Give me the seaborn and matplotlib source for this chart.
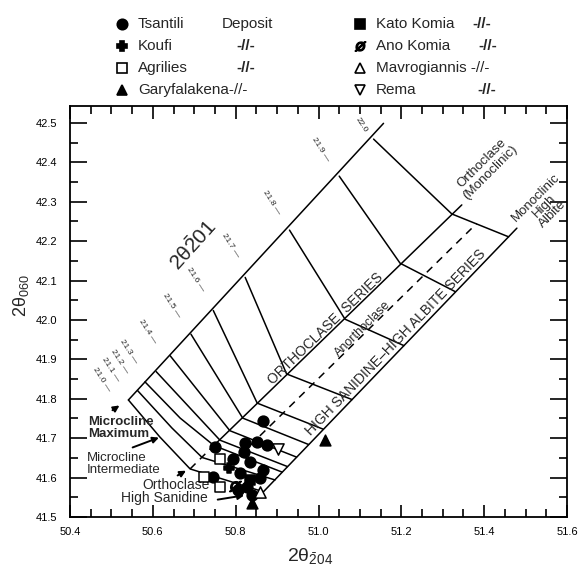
import matplotlib
matplotlib.use("Agg")
import matplotlib.pyplot as plt
import pandas as pd
import seaborn as sns
from matplotlib.ticker import MultipleLocator
from matplotlib.lines import Line2D

# -- Sample data: 2θ(-204) and 2θ(060) --
sample_site = (
    ["Tsantili"] * 15
    + ["Koufi"]
    + ["Agrilies"] * 3
    + ["Garyfalakena"] * 2
    + ["Kato Komia"]
    + ["Ano Komia"]
    + ["Mavrogiannis"]
    + ["Rema"]
)
sample_2t204 = [
    50.867, 50.750, 50.823, 50.851, 50.875, 50.819, 50.794, 50.867,
    50.746, 50.811, 50.827, 50.859, 50.835, 50.840, 50.806,
    50.783,
    50.761, 50.724, 50.762,
    50.839, 51.016,
    50.835,
    50.799,
    50.859,
    50.903,
]
sample_2t060 = [
    41.744, 41.677, 41.687, 41.691, 41.683, 41.666, 41.646, 41.619,
    41.602, 41.611, 41.577, 41.599, 41.640, 41.556, 41.569,
    41.624,
    41.647, 41.602, 41.577,
    41.535, 41.695,
    41.594,
    41.579,
    41.564,
    41.672,
]

# -- Reference grid (Wright-type diagram) --
contour_names = ["21.0", "21.1", "21.2", "21.3", "21.4", "21.5",
                 "21.6", "21.7", "21.8", "21.9", "22.0"]
contour_x = [
    [50.541, 50.617, 50.690, 50.867],
    [50.563, 50.646, 50.719, 50.895],
    [50.581, 50.666, 50.748, 50.912],
    [50.608, 50.762, 50.925],
    [50.642, 50.786, 50.947],
    [50.692, 50.817, 50.976],
    [50.746, 50.852, 51.011],
    [50.823, 50.923, 51.081],
    [50.930, 51.064, 51.206],
    [51.050, 51.197, 51.330],
    [51.133, 51.286, 51.322, 51.459],
]
contour_y = [
    [41.797, 41.703, 41.622, 41.564],
    [41.821, 41.726, 41.651, 41.594],
    [41.843, 41.751, 41.681, 41.614],
    [41.869, 41.695, 41.628],
    [41.909, 41.719, 41.652],
    [41.964, 41.751, 41.684],
    [42.024, 41.789, 41.723],
    [42.108, 41.863, 41.798],
    [42.228, 42.002, 41.935],
    [42.365, 42.144, 42.072],
    [42.459, 42.305, 42.269, 42.211],
]
upper_x = [50.541, 51.157]
upper_y = [41.797, 42.499]
orthoclase_x = [50.738, 51.346]
orthoclase_y = [41.672, 42.292]
orthoclase_dash_x = [50.690, 50.738]
orthoclase_dash_y = [41.622, 41.672]
sanidine_x = [50.867, 51.479]
sanidine_y = [41.564, 42.233]
anorthoclase_x = [50.811, 51.382]
anorthoclase_y = [41.657, 42.245]

# label offsets (pixels) of the 2θ-201 values from their contour ends
contour_label_dx = [-27, -27, -25, -28, -23, -19, -18, -15, -18, -19, -12]
contour_label_dy = [20, 21, 20, 20, 24, 29, 31, 32, 28, 27, 14]

site_style = {
    "Tsantili": ("o", "black", 60),
    "Koufi": ("P", "black", 45),
    "Agrilies": ("s", "white", 55),
    "Garyfalakena": ("^", "black", 60),
    "Kato Komia": ("s", "black", 55),
    "Ano Komia": (r"$\O$", "black", 70),
    "Mavrogiannis": ("^", "white", 65),
    "Rema": ("v", "white", 65),
}
legend_labels = ["Tsantili", "Koufi", "Agrilies", "Garyfalakena-//-",
                 "Kato Komia", "Ano Komia", "Mavrogiannis -//-", "Rema"]
legend_extra = ["Deposit", "-//-", "-//-", "", "-//-", "-//-", "", "-//-"]
legend_extra_px = [222, 236, 236, 0, 472, 478, 0, 477]
legend_row_px = [24, 46, 68, 90]
legend_col_px = [122, 360]


def draw_line(ax, x, y, dashed=False, lw=1.1):
    sns.lineplot(x=x, y=y, sort=False, estimator=None, color="black",
                 lw=lw, linestyle=(0, (5, 4)) if dashed else "-", ax=ax)


def main():
    sns.set_style("ticks")
    plt.rcParams["font.family"] = ["Liberation Sans", "DejaVu Sans"]
    plt.rcParams["mathtext.fontset"] = "custom"
    plt.rcParams["mathtext.rm"] = "Liberation Sans"
    plt.rcParams["mathtext.it"] = "Liberation Sans:italic"
    plt.rcParams["mathtext.bf"] = "Liberation Sans:bold"

    W, H = 578, 576
    fig = plt.figure(figsize=(W / 100, H / 100), dpi=100)
    ax = fig.add_axes([70 / W, 1 - 517 / H, (567 - 70) / W, (517 - 106) / H])

    # grid of the diagram
    for cx, cy in zip(contour_x, contour_y):
        draw_line(ax, cx, cy)
    draw_line(ax, upper_x, upper_y)
    draw_line(ax, orthoclase_x, orthoclase_y)
    draw_line(ax, orthoclase_dash_x, orthoclase_dash_y, dashed=True)
    draw_line(ax, sanidine_x, sanidine_y)
    draw_line(ax, anorthoclase_x, anorthoclase_y, dashed=True)

    # 2θ-201 values along the upper boundary
    for name, cx, cy, dx, dy in zip(contour_names, contour_x, contour_y,
                                    contour_label_dx, contour_label_dy):
        lab = name if name == "22.0" else name + " \u2014"
        ax.annotate(lab, xy=(cx[0], cy[0]), xytext=(dx, dy),
                    textcoords="offset pixels", rotation=-57,
                    ha="center", va="center", fontsize=6)

    # samples
    df = pd.DataFrame({"site": sample_site, "t204": sample_2t204,
                       "t060": sample_2t060})
    for site in site_style:
        m, fc, s = site_style[site]
        sub = df[df["site"] == site]
        sns.scatterplot(data=sub, x="t204", y="t060", marker=m, s=s,
                        facecolor=fc, edgecolor="black", linewidth=1.1,
                        legend=False, zorder=4, ax=ax)

    # texts on the diagram
    ax.text(50.697, 42.190, r"2θ$\mathrm{\bar{2}}$01", rotation=48,
            ha="center", va="center", fontsize=15)
    ax.text(51.018, 41.977, "ORTHOCLASE  SERIES", rotation=44,
            ha="center", va="center", fontsize=10)
    ax.text(51.107, 41.977, "Anorthoclase", rotation=45,
            ha="center", va="center", fontsize=9)
    ax.text(51.186, 41.944, "HIGH SANIDINE\u2013HIGH ALBITE SERIES",
            rotation=46, ha="center", va="center", fontsize=10)
    ax.text(51.405, 42.386, "Orthoclase\n(Monoclinic)", rotation=45,
            ha="center", va="center", fontsize=9.5, linespacing=1.0)
    ax.text(51.545, 42.290, "Monoclinic\nHigh\nAlbite", rotation=45,
            ha="center", va="center", fontsize=9.5, linespacing=0.95)

    # pointers
    arrow = dict(arrowstyle="-|>", color="black", lw=1.4, mutation_scale=9)
    ax.text(50.443, 41.726, "Microcline\nMaximum", ha="left", va="center",
            fontsize=9.5, fontweight="bold", linespacing=1.0)
    ax.annotate("", xy=(50.525, 41.787), xytext=(50.497, 41.767),
                arrowprops=arrow)
    ax.text(50.440, 41.635, "Microcline\nIntermediate", ha="left",
            va="center", fontsize=9.5, linespacing=1.0)
    ax.annotate("", xy=(50.621, 41.704), xytext=(50.545, 41.674),
                arrowprops=arrow)
    ax.text(50.656, 41.581, "Orthoclase", ha="center", va="center",
            fontsize=10)
    ax.annotate("", xy=(50.686, 41.621), xytext=(50.654, 41.602),
                arrowprops=arrow)
    ax.text(50.627, 41.548, "High Sanidine", ha="center", va="center",
            fontsize=10)
    ax.annotate("", xy=(50.827, 41.556), xytext=(50.750, 41.543),
                arrowprops=arrow)

    # axes
    ax.set_xlim(50.4, 51.6)
    ax.set_ylim(41.5, 42.543)
    ax.xaxis.set_major_locator(MultipleLocator(0.2))
    ax.xaxis.set_minor_locator(MultipleLocator(0.05))
    ax.yaxis.set_major_locator(MultipleLocator(0.1))
    ax.yaxis.set_minor_locator(MultipleLocator(0.05))
    ax.xaxis.set_major_formatter(lambda v, p: f"{v:.1f}")
    ax.yaxis.set_major_formatter(lambda v, p: f"{v:.1f}")
    ax.tick_params(which="both", direction="in", top=True, right=True,
                   width=1.2, colors="black", labelsize=8)
    ax.tick_params(axis="x", which="major", length=9, pad=7)
    ax.tick_params(axis="x", which="minor", length=6)
    ax.tick_params(axis="y", which="major", length=12, pad=9)
    ax.tick_params(axis="y", which="minor", length=6)
    for sp in ax.spines.values():
        sp.set_linewidth(1.3)
        sp.set_color("black")
    ax.set_xlabel(r"2θ$_{\mathrm{\bar{2}04}}$", fontsize=14)
    ax.set_ylabel(r"2θ$_{060}$", fontsize=13)
    ax.xaxis.set_label_coords((310 - 70) / (567 - 70), -(546 - 517) / (517 - 106))
    ax.yaxis.set_label_coords(-(70 - 31) / (567 - 70), (517 - 296) / (517 - 106))

    # legend above the frame, two columns of four rows
    for i, site in enumerate(site_style):
        m, fc, _ = site_style[site]
        col, row = divmod(i, 4)
        yf = 1 - legend_row_px[row] / H
        mx = legend_col_px[col]
        fig.add_artist(Line2D([mx / W], [yf], transform=fig.transFigure,
                              marker=m, ls="", markersize=7.5,
                              markerfacecolor=fc, markeredgecolor="black",
                              markeredgewidth=1.2))
        fig.text((mx + 16) / W, yf, legend_labels[i], ha="left",
                 va="center", fontsize=11)
        if legend_extra[i]:
            fig.text(legend_extra_px[i] / W, yf, legend_extra[i], ha="left",
                     va="center", fontsize=11,
                     fontweight="normal" if legend_extra[i] == "Deposit"
                     else "bold")

    fig.savefig("out.png", dpi=100)
    plt.close(fig)


if __name__ == "__main__":
    main()
